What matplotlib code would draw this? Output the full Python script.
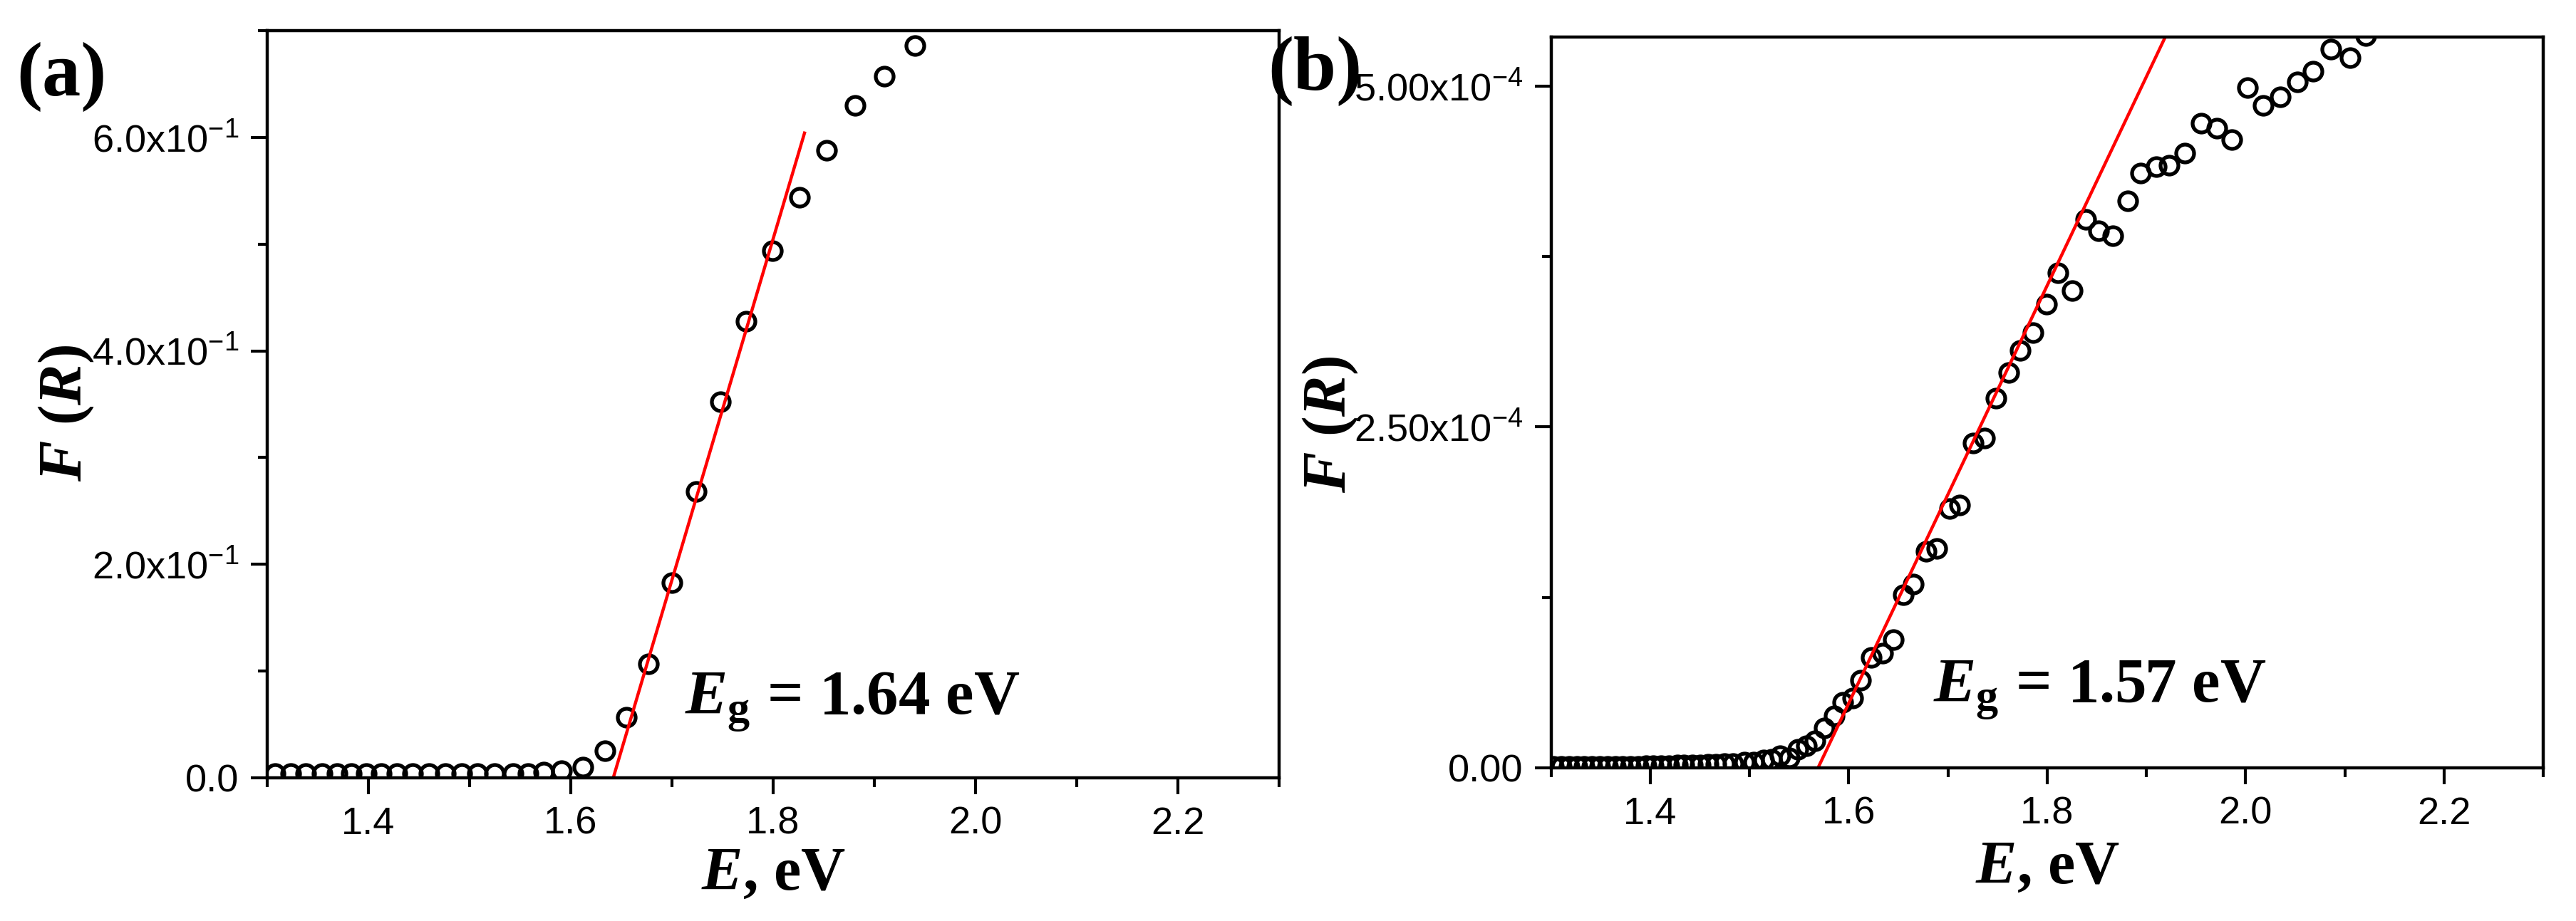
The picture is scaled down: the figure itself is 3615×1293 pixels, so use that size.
import numpy as np
import matplotlib
matplotlib.use("Agg")
import matplotlib.pyplot as plt
from matplotlib.ticker import MultipleLocator

plt.rcParams["font.family"] = ["Liberation Sans", "DejaVu Sans"]
plt.rcParams["mathtext.fontset"] = "custom"
plt.rcParams["mathtext.it"] = "Liberation Serif:italic:bold"
plt.rcParams["mathtext.rm"] = "Liberation Serif:bold"
plt.rcParams["mathtext.default"] = "regular"

# panel (a) data
E_a = [1.308, 1.323, 1.338, 1.354, 1.369, 1.383, 1.398, 1.413, 1.428, 1.444,
       1.460, 1.476, 1.492, 1.508, 1.525, 1.543, 1.558, 1.573, 1.591, 1.612,
       1.634, 1.655, 1.677, 1.700, 1.724, 1.748, 1.773, 1.799, 1.826, 1.853,
       1.881, 1.910, 1.940]
F_a = [0.004, 0.004, 0.004, 0.004, 0.004, 0.004, 0.004, 0.004, 0.004, 0.004,
       0.004, 0.004, 0.004, 0.004, 0.004, 0.004, 0.004, 0.0055, 0.0065, 0.010,
       0.025, 0.057, 0.107, 0.183, 0.268, 0.352, 0.428, 0.494, 0.544, 0.588,
       0.630, 0.657, 0.686]
fit_a_x = [1.642, 1.831]
fit_a_y = [0.0, 0.604]

# panel (b) data, F in units of 1e-4
E_b = [1.302, 1.310, 1.318, 1.326, 1.333, 1.341, 1.349, 1.357, 1.365, 1.372,
       1.380, 1.388, 1.396, 1.403, 1.411, 1.419, 1.427, 1.434, 1.442, 1.450,
       1.458, 1.466, 1.475, 1.483, 1.495, 1.504, 1.514, 1.522, 1.531, 1.540,
       1.549, 1.557, 1.566, 1.575, 1.585, 1.594, 1.604, 1.612, 1.623, 1.634,
       1.645, 1.655, 1.665, 1.678, 1.689, 1.702, 1.712, 1.725, 1.737, 1.748,
       1.761, 1.773, 1.786, 1.799, 1.811, 1.825, 1.839, 1.852, 1.866, 1.881,
       1.894, 1.910, 1.923, 1.939, 1.955, 1.971, 1.986, 2.002, 2.018, 2.035,
       2.052, 2.068, 2.086, 2.105, 2.121]
F_b_e4 = [0.01, 0.01, 0.01, 0.01, 0.01, 0.01, 0.01, 0.01, 0.01, 0.01,
          0.01, 0.01, 0.015, 0.015, 0.015, 0.015, 0.02, 0.02, 0.02, 0.02,
          0.025, 0.025, 0.03, 0.03, 0.04, 0.043, 0.056, 0.064, 0.09, 0.073,
          0.134, 0.16, 0.20, 0.29, 0.38, 0.48, 0.51, 0.64, 0.81, 0.84,
          0.94, 1.27, 1.35, 1.59, 1.61, 1.90, 1.93, 2.38, 2.42, 2.71,
          2.90, 3.06, 3.19, 3.40, 3.63, 3.50, 4.02, 3.94, 3.90, 4.16,
          4.36, 4.41, 4.42, 4.51, 4.73, 4.69, 4.61, 4.99, 4.86, 4.92,
          5.03, 5.11, 5.27, 5.21, 5.37]
F_b = np.array(F_b_e4) * 1e-4
fit_b_x = [1.569, 1.919]
fit_b_y = [0.0, 5.36e-4]

x_ticks = [1.4, 1.6, 1.8, 2.0, 2.2]
x_labels = ["1.4", "1.6", "1.8", "2.0", "2.2"]
y_ticks_a = [0.0, 0.2, 0.4, 0.6]
y_labels_a = ["0.0", r"2.0x10$^{-1}$", r"4.0x10$^{-1}$", r"6.0x10$^{-1}$"]
y_ticks_b = [0.0, 2.5e-4, 5.0e-4]
y_labels_b = ["0.00", r"2.50x10$^{-4}$", r"5.00x10$^{-4}$"]

serif_bold = dict(family="Liberation Serif", weight="bold")

fig = plt.figure(figsize=(18.08, 6.465), dpi=200)
ax_a = fig.add_axes([0.1037, 0.1555, 0.3927, 0.8113])
ax_b = fig.add_axes([0.6020, 0.1663, 0.3850, 0.7935])


def style_axes(ax, yticks, ylabels, ymax, yminor):
    ax.set_xlim(1.3, 2.3)
    ax.set_ylim(0, ymax)
    ax.set_xticks(x_ticks, x_labels)
    ax.set_yticks(yticks, ylabels)
    ax.xaxis.set_minor_locator(MultipleLocator(0.1))
    ax.yaxis.set_minor_locator(MultipleLocator(yminor))
    ax.tick_params(which="both", direction="out", width=1.5, top=False, right=False)
    ax.tick_params(which="major", length=8.3, labelsize=19.5)
    ax.tick_params(axis="x", which="major", pad=6)
    ax.tick_params(axis="y", which="major", pad=6)
    ax.tick_params(which="minor", length=4.7)
    for s in ax.spines.values():
        s.set_linewidth(1.6)
    ax.set_xlabel(r"$\mathit{E}$, eV", fontsize=31, **serif_bold)
    ax.set_ylabel(r"$\mathit{F}$ ($\mathit{R}$)", fontsize=31, **serif_bold)
    ax.xaxis.label.set_va("center")
    ax.yaxis.label.set_va("center")


ax_a.plot(E_a, F_a, "o", mfc="none", mec="black", ms=9, mew=1.9)
ax_a.plot(fit_a_x, fit_a_y, "-", color="#ff0000", lw=1.6)
style_axes(ax_a, y_ticks_a, y_labels_a, 0.70, 0.1)
ax_a.xaxis.set_label_coords(0.5, -0.130)
ax_a.yaxis.set_label_coords(-0.198, 0.488)
ax_a.text(1.713, 0.060, r"$\mathit{E}_{\mathregular{g}}$ = 1.64 eV",
          fontsize=32, ha="left", va="baseline", **serif_bold)

ax_b.plot(E_b, F_b, "o", mfc="none", mec="black", ms=9, mew=1.9)
ax_b.plot(fit_b_x, fit_b_y, "-", color="#ff0000", lw=1.6)
style_axes(ax_b, y_ticks_b, y_labels_b, 5.36e-4, 1.25e-4)
ax_b.xaxis.set_label_coords(0.5, -0.138)
ax_b.yaxis.set_label_coords(-0.222, 0.47)
ax_b.text(1.685, 0.485e-4, r"$\mathit{E}_{\mathregular{g}}$ = 1.57 eV",
          fontsize=32, ha="left", va="baseline", **serif_bold)

fig.text(0.024, 0.9165, "(a)", fontsize=39, ha="center", va="center", **serif_bold)
fig.text(0.5102, 0.9227, "(b)", fontsize=39, ha="center", va="center", **serif_bold)

fig.savefig("out.png", dpi=200)
